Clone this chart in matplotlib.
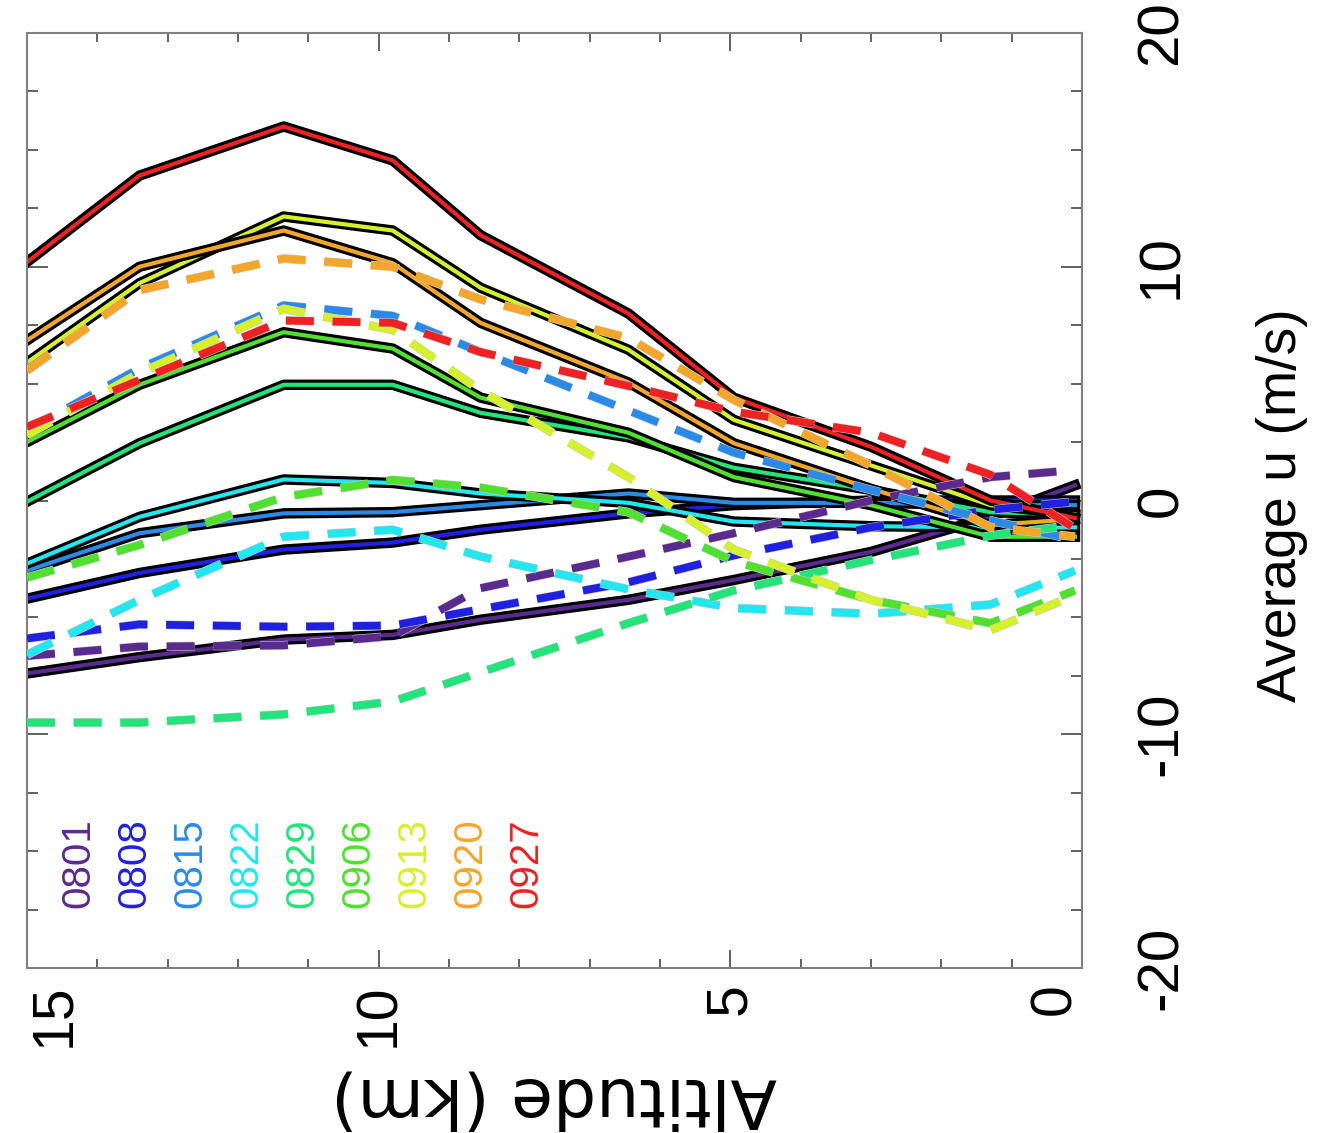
import matplotlib
matplotlib.use("Agg")
import matplotlib.pyplot as plt
import matplotlib.patheffects as pe
from matplotlib import font_manager as fm
from matplotlib.ticker import MultipleLocator

# altitude levels (km) shared by all profiles
altitude = [15, 13.4, 11.35, 9.8, 8.55, 6.45, 4.95, 3.0, 1.3, 0.1]

dates = ["0801", "0808", "0815", "0822", "0829", "0906", "0913", "0920", "0927"]
colors = ["#5a2a8e", "#2020e0", "#2b8ae8", "#22e6f0", "#22e47a",
          "#50e030", "#d6f02c", "#f4a62a", "#ee2222"]

# solid profiles (average u, m/s)
solid_0801 = [-7.4, -6.7, -5.95, -5.75, -5.1, -4.25, -3.4, -2.2, -0.7, 0.65]
solid_0808 = [-4.2, -3.1, -2.1, -1.8, -1.25, -0.55, -0.2, 0.0, 0.0, 0.0]
solid_0815 = [-3.0, -1.4, -0.55, -0.5, -0.2, 0.3, -0.1, -0.1, -0.2, -0.2]
solid_0822 = [-2.7, -0.7, 0.9, 0.75, 0.3, -0.1, -0.9, -1.1, -1.15, -1.15]
solid_0829 = [-0.05, 2.45, 4.95, 4.95, 3.75, 2.7, 1.4, 0.45, -0.5, -0.6]
solid_0906 = [2.5, 4.95, 7.2, 6.5, 4.4, 2.9, 1.0, -0.2, -1.55, -1.55]
solid_0913 = [5.9, 9.3, 12.15, 11.55, 9.1, 6.45, 3.45, 1.5, -0.2, -0.6]
solid_0920 = [6.85, 10.0, 11.55, 10.15, 7.6, 5.05, 2.45, 0.5, -1.05, -0.8]
solid_0927 = [10.2, 13.9, 16.0, 14.55, 11.35, 8.0, 4.4, 2.3, 0.0, -0.75]

# dashed profiles
dash_0801 = [-6.65, -6.25, -6.2, -5.8, -3.75, -2.4, -1.4, 0.0, 1.0, 1.3]
dash_0808 = [-5.9, -5.3, -5.4, -5.35, -4.65, -3.5, -2.35, -1.15, -0.4, -0.05]
dash_0815 = [3.0, 5.65, 8.35, 7.9, 6.35, 3.85, 2.05, 0.45, -0.85, -1.7]
dash_0822 = [-6.6, -4.25, -1.55, -1.25, -2.4, -3.8, -4.6, -4.85, -4.45, -3.0]
dash_0829 = [-9.5, -9.5, -9.15, -8.6, -7.35, -5.25, -3.85, -2.55, -1.5, -1.05]
dash_0906 = [-3.3, -1.9, 0.15, 0.88, 0.55, -0.5, -2.6, -4.25, -5.25, -3.85]
dash_0913 = [2.8, 5.45, 8.2, 7.3, 4.7, 1.0, -2.1, -4.25, -5.55, -4.05]
dash_0920 = [5.55, 9.0, 10.35, 10.0, 8.6, 6.95, 4.3, 1.5, -1.15, -1.55]
dash_0927 = [3.15, 5.15, 7.7, 7.6, 6.35, 4.9, 3.8, 2.9, 1.1, -1.2]

solids = [solid_0801, solid_0808, solid_0815, solid_0822, solid_0829,
          solid_0906, solid_0913, solid_0920, solid_0927]
dashes = [dash_0801, dash_0808, dash_0815, dash_0822, dash_0829,
          dash_0906, dash_0913, dash_0920, dash_0927]

installed = {f.name for f in fm.fontManager.ttflist}
narrow = "Liberation Sans Narrow" if "Liberation Sans Narrow" in installed else "Liberation Sans"
plt.rcParams["font.family"] = [narrow, "DejaVu Sans"]
plt.rcParams["axes.unicode_minus"] = False

fig = plt.figure(figsize=(13.26, 11.33), dpi=100)
ax = fig.add_axes([27 / 1326, 1 - 968 / 1133, 1055 / 1326, 935 / 1133])

for vals, c in zip(solids, colors):
    ax.plot(altitude, vals, color=c, lw=3.0, zorder=2,
            path_effects=[pe.Stroke(linewidth=7.5, foreground="black"), pe.Normal()])

for vals, c in zip(dashes, colors):
    ax.plot(altitude, vals, color=c, lw=5.6, dashes=(3.6, 2.4), zorder=3,
            dash_capstyle="butt",
            path_effects=[pe.Stroke(linewidth=6.4, foreground="#c8c8c8"), pe.Normal()])

ax.set_xlim(15, 0)
ax.set_ylim(-20, 20)
ax.set_xticks([15, 10, 5, 0])
ax.set_yticks([-20, -10, 0, 10, 20])
ax.xaxis.set_minor_locator(MultipleLocator(1))
ax.yaxis.set_minor_locator(MultipleLocator(2.5))

for s in ax.spines.values():
    s.set_color("#808080")
    s.set_linewidth(1.5)

ax.tick_params(axis="x", which="both", direction="in", top=True, bottom=True,
               color="#555555", width=1.3, labelsize=41, pad=11, labelrotation=90)
ax.tick_params(axis="x", which="major", length=13)
ax.tick_params(axis="x", which="minor", length=6.5)
ax.tick_params(axis="y", which="both", direction="in", left=True, right=True,
               labelleft=False, labelright=True, color="#555555", width=1.3,
               labelsize=42, pad=38, labelrotation=90)
ax.tick_params(axis="y", which="major", length=15)
ax.tick_params(axis="y", which="minor", length=8)

xl = ax.get_xticklabels()
xl[0].set_ha("left")
xl[-1].set_ha("right")
for lab in ax.get_yticklabels():
    lab.set_va("center")

# date labels
for i, (d, c) in enumerate(zip(dates, colors)):
    xa = 15 - (78 + 56 * i - 27) / 70.33
    ax.text(xa, -17.43, d, rotation=90, ha="center", va="bottom",
            color=c, fontsize=29)

fig.text(1282 / 1326, 1 - 505 / 1133, "Average u (m/s)", rotation=90,
         ha="center", va="center", fontsize=40)
fig.text(554 / 1326, 1 - 1097 / 1133, "Altitude (km)", rotation=180,
         ha="center", va="center", fontsize=49, family="DejaVu Sans")

fig.savefig("out.png", dpi=100, facecolor="white")
